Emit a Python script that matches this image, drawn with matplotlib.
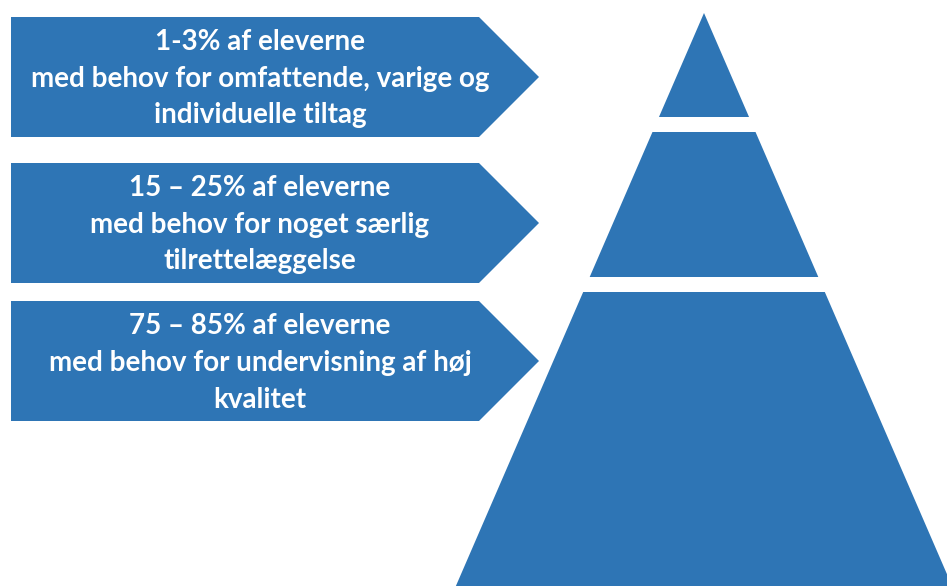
import matplotlib.pyplot as plt
from matplotlib.patches import Polygon

# texts for the three levels, top to bottom
percent_labels = ["1-3% af eleverne", "15 \u2013 25% af eleverne", "75 \u2013 85% af eleverne"]
need_labels = ["med behov for omfattende, varige og\nindividuelle tiltag",
               "med behov for noget s\u00e6rlig\ntilrettel\u00e6ggelse",
               "med behov for undervisning af h\u00f8j\nkvalitet"]

BLUE = "#2E75B5"

fig = plt.figure(figsize=(9.47, 5.86), dpi=100)
ax = fig.add_axes([0, 0, 1, 1])
ax.set_xlim(0, 947)
ax.set_ylim(586, 0)
ax.axis("off")

# arrow boxes (pixel layout)
arrow_tops = [17, 163, 301]
arrow_h = 120
left, body_end, tip = 11, 479, 539
for top, pct, need in zip(arrow_tops, percent_labels, need_labels):
    bot = top + arrow_h
    mid = (top + bot) / 2
    pts = [(left, top), (body_end, top), (tip, mid), (body_end, bot), (left, bot)]
    ax.add_patch(Polygon(pts, closed=True, facecolor=BLUE, edgecolor="none"))
    ax.text(260, mid + 2, pct + "\n" + need, ha="center", va="center", color="white",
            fontsize=20, fontweight="bold", family="Lato", linespacing=1.5)

# pyramid: apex and slope, split into tiers with white gaps
apex_x, apex_y = 704, 13
slope = 0.433
tiers = [(13, 117), (132, 277), (292, 600)]
for y0, y1 in tiers:
    w0 = (y0 - apex_y) * slope
    w1 = (y1 - apex_y) * slope
    pts = [(apex_x - w0, y0), (apex_x + w0, y0), (apex_x + w1, y1), (apex_x - w1, y1)]
    ax.add_patch(Polygon(pts, closed=True, facecolor=BLUE, edgecolor="none"))

fig.savefig("out.png", dpi=100)
